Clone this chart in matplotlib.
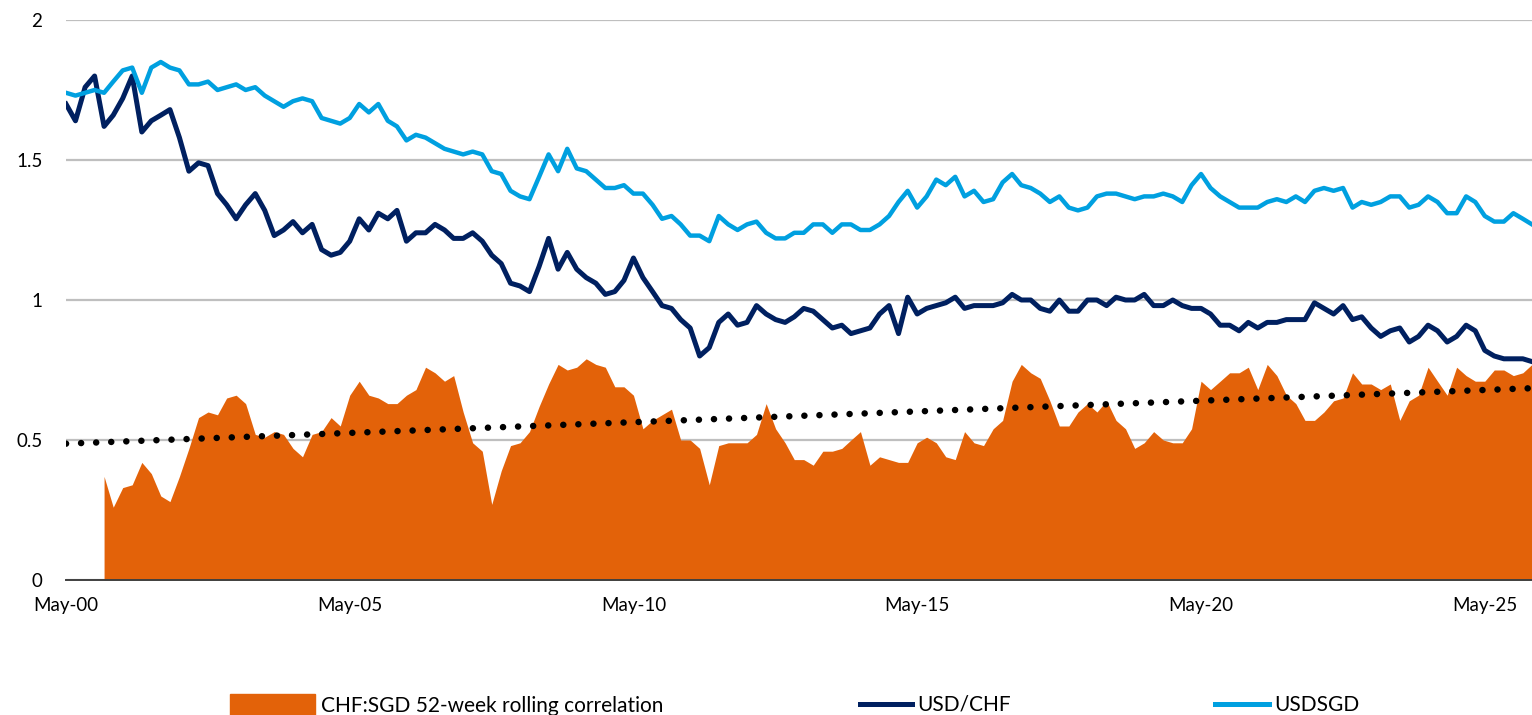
import numpy as np
import pandas as pd
import matplotlib
matplotlib.use("Agg")
import matplotlib.pyplot as plt
from matplotlib.patches import Patch
from matplotlib.lines import Line2D
import matplotlib.dates as mdates

plt.rcParams['font.family'] = ['Lato', 'DejaVu Sans']

# Sample dates, one every two months from May 2000
dates = pd.date_range('2000-05-01', periods=156, freq='2MS')

usdsgd = [
    1.74, 1.73, 1.74, 1.75, 1.74, 1.78, 1.82, 1.83, 1.74, 1.83, 1.85, 1.83, 1.82,
    1.77, 1.77, 1.78, 1.75, 1.76, 1.77, 1.75, 1.76, 1.73, 1.71, 1.69, 1.71, 1.72,
    1.71, 1.65, 1.64, 1.63, 1.65, 1.70, 1.67, 1.70, 1.64, 1.62, 1.57, 1.59, 1.58,
    1.56, 1.54, 1.53, 1.52, 1.53, 1.52, 1.46, 1.45, 1.39, 1.37, 1.36, 1.44, 1.52,
    1.46, 1.54, 1.47, 1.46, 1.43, 1.40, 1.40, 1.41, 1.38, 1.38, 1.34, 1.29, 1.30,
    1.27, 1.23, 1.23, 1.21, 1.30, 1.27, 1.25, 1.27, 1.28, 1.24, 1.22, 1.22,
    1.24, 1.24, 1.27, 1.27, 1.24, 1.27, 1.27, 1.25, 1.25, 1.27, 1.30, 1.35, 1.39,
    1.33, 1.37, 1.43, 1.41, 1.44, 1.37, 1.39, 1.35, 1.36, 1.42, 1.45, 1.41, 1.40,
    1.38, 1.35, 1.37, 1.33, 1.32, 1.33, 1.37, 1.38, 1.38, 1.37, 1.36, 1.37, 1.37,
    1.38, 1.37, 1.35, 1.41, 1.45, 1.40, 1.37, 1.35, 1.33, 1.33, 1.33, 1.35,
    1.36, 1.35, 1.37, 1.35, 1.39, 1.40, 1.39, 1.40, 1.33, 1.35, 1.34, 1.35, 1.37,
    1.37, 1.33, 1.34, 1.37, 1.35, 1.31, 1.31, 1.37, 1.35, 1.30, 1.28, 1.28, 1.31,
    1.29, 1.27,
]

usdchf = [
    1.70, 1.64, 1.76, 1.80, 1.62, 1.66, 1.72, 1.80, 1.60, 1.64, 1.66, 1.68, 1.58,
    1.46, 1.49, 1.48, 1.38, 1.34, 1.29, 1.34, 1.38, 1.32, 1.23, 1.25, 1.28, 1.24,
    1.27, 1.18, 1.16, 1.17, 1.21, 1.29, 1.25, 1.31, 1.29, 1.32, 1.21, 1.24, 1.24,
    1.27, 1.25, 1.22, 1.22, 1.24, 1.21, 1.16, 1.13, 1.06, 1.05, 1.03, 1.12, 1.22,
    1.11, 1.17, 1.11, 1.08, 1.06, 1.02, 1.03, 1.07, 1.15, 1.08, 1.03, 0.98, 0.97,
    0.93, 0.90, 0.80, 0.83, 0.92, 0.95, 0.91, 0.92, 0.98, 0.95, 0.93, 0.92,
    0.94, 0.97, 0.96, 0.93, 0.90, 0.91, 0.88, 0.89, 0.90, 0.95, 0.98, 0.88, 1.01,
    0.95, 0.97, 0.98, 0.99, 1.01, 0.97, 0.98, 0.98, 0.98, 0.99, 1.02, 1.00, 1.00,
    0.97, 0.96, 1.00, 0.96, 0.96, 1.00, 1.00, 0.98, 1.01, 1.00, 1.00, 1.02, 0.98,
    0.98, 1.00, 0.98, 0.97, 0.97, 0.95, 0.91, 0.91, 0.89, 0.92, 0.90, 0.92,
    0.92, 0.93, 0.93, 0.93, 0.99, 0.97, 0.95, 0.98, 0.93, 0.94, 0.90, 0.87, 0.89,
    0.90, 0.85, 0.87, 0.91, 0.89, 0.85, 0.87, 0.91, 0.89, 0.82, 0.80, 0.79, 0.79,
    0.79, 0.78,
]

# 52-week rolling correlation, starts late 2000
corr = [
    np.nan, np.nan, np.nan, np.nan,
    0.37, 0.26, 0.33, 0.34, 0.42, 0.38, 0.30, 0.28, 0.37, 0.47, 0.58, 0.60, 0.59,
    0.65, 0.66, 0.63, 0.52, 0.51, 0.53, 0.52, 0.47, 0.44,
    0.52, 0.53, 0.58, 0.55, 0.66, 0.71, 0.66, 0.65, 0.63, 0.63, 0.66, 0.68, 0.76,
    0.74, 0.71, 0.73, 0.60, 0.49, 0.46, 0.27, 0.39, 0.48, 0.49, 0.53, 0.62, 0.70,
    0.77, 0.75, 0.76, 0.79, 0.77, 0.76, 0.69, 0.69, 0.66, 0.54, 0.57, 0.59, 0.61,
    0.50, 0.50, 0.47, 0.34, 0.48, 0.49, 0.49, 0.49, 0.52, 0.63, 0.54, 0.49,
    0.43, 0.43, 0.41, 0.46, 0.46, 0.47, 0.50, 0.53, 0.41, 0.44, 0.43, 0.42, 0.42,
    0.49, 0.51, 0.49, 0.44, 0.43, 0.53, 0.49, 0.48, 0.54, 0.57, 0.71, 0.77, 0.74,
    0.72, 0.64, 0.55, 0.55, 0.60, 0.63, 0.60, 0.64, 0.57, 0.54, 0.47, 0.49, 0.53,
    0.50, 0.49, 0.49, 0.54, 0.71, 0.68, 0.71, 0.74, 0.74, 0.76, 0.68, 0.77,
    0.73, 0.66, 0.63, 0.57, 0.57, 0.60, 0.64, 0.65, 0.74, 0.70, 0.70, 0.68, 0.70,
    0.57, 0.64, 0.66, 0.76, 0.71, 0.66, 0.76, 0.73, 0.71, 0.71, 0.75, 0.75, 0.73,
    0.74, 0.77,
]

# linear trend of the correlation, start and end value
trend = [0.487, 0.685]

tick_years = [2000, 2005, 2010, 2015, 2020, 2025]

orange = '#E36209'
navy = '#002060'
light_blue = '#00A0E0'

fig = plt.figure(figsize=(15.32, 7.15), dpi=100)
ax = fig.add_axes([66 / 1532, 1 - 580 / 715, 1 - 66 / 1532, 560 / 715])

ax.fill_between(dates, 0, np.array(corr, dtype=float), color=orange, lw=0, zorder=2)
ax.plot([dates[0], dates[-1]], trend, color='black', lw=4.7,
        dashes=(0.01, 2.3), dash_capstyle='round', zorder=3)
ax.plot(dates, usdchf, color=navy, lw=3.6, zorder=4)
ax.plot(dates, usdsgd, color=light_blue, lw=3.2, zorder=5)

ax.set_ylim(0, 2)
ax.set_xlim(dates[0], dates[-1])
ax.set_yticks([0, 0.5, 1, 1.5, 2])
ax.set_yticklabels(['0', '0.5', '1', '1.5', '2'])
ax.set_xticks([pd.Timestamp(f'{y}-05-01') for y in tick_years])
ax.xaxis.set_major_formatter(mdates.DateFormatter('%b-%y'))

ax.grid(axis='y', color='#BFBFBF', lw=1.6)
ax.set_axisbelow(True)
for s in ['top', 'right', 'left']:
    ax.spines[s].set_visible(False)
ax.spines['bottom'].set_color('#404040')
ax.spines['bottom'].set_linewidth(1.4)
ax.spines['bottom'].set_zorder(6)
ax.tick_params(axis='both', length=0, labelsize=13.5, colors='black')
ax.tick_params(axis='y', pad=17)
ax.tick_params(axis='x', pad=12)

# legend entries laid out like the original, along the bottom edge
leg_kw = dict(loc='center left', frameon=False, fontsize=15, borderpad=0,
              borderaxespad=0, handletextpad=0.25)
l1 = fig.legend([Patch(color=orange)], ['CHF:SGD 52-week rolling correlation'],
                bbox_to_anchor=(230 / 1532, 0.014), handlelength=4.1,
                handleheight=1.3, **leg_kw)
l2 = fig.legend([Line2D([], [], color=navy, lw=3.6)], ['USD/CHF'],
                bbox_to_anchor=(860 / 1532, 0.014), handlelength=2.5, **leg_kw)
l3 = fig.legend([Line2D([], [], color=light_blue, lw=3.6)], ['USDSGD'],
                bbox_to_anchor=(1215 / 1532, 0.014), handlelength=2.6, **leg_kw)

fig.savefig('out.png', dpi=100)
